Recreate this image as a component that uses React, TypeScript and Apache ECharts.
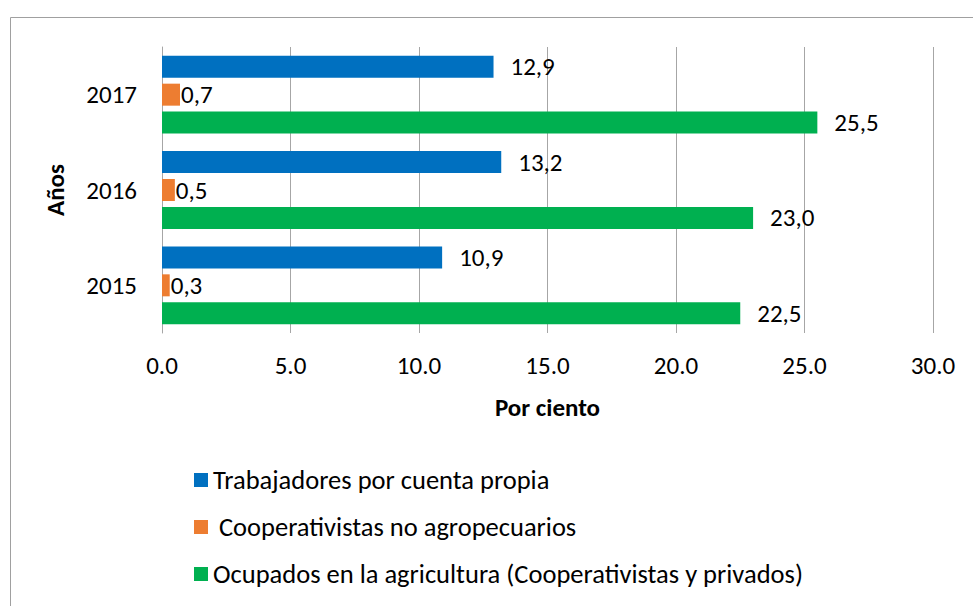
import React, { useEffect, useRef } from "react";
import * as echarts from "echarts";

const categories = ["2015", "2016", "2017"];
const seriesNames = [
  "Trabajadores por cuenta propia",
  " Cooperativistas no agropecuarios",
  "Ocupados en la agricultura (Cooperativistas y privados)",
];
const trabajadores = [10.9, 13.2, 12.9];
const cooperativistas = [0.3, 0.5, 0.7];
const ocupados = [22.5, 23.0, 25.5];
const xTicks = { min: 0, max: 30, interval: 5 };

const FONT = "Carlito, Lato, 'Open Sans', sans-serif";
const FS = 25;

export default function App() {
  const ref = useRef<HTMLDivElement>(null);
  useEffect(() => {
    if (!ref.current) return;
    const chart = echarts.init(ref.current, undefined, { renderer: "svg" });
    const fmt = (p: any) => Number(p.value).toFixed(1).replace(".", ",");
    const mk = (name: string, data: number[], color: string, dist: number) => ({
      name,
      type: "bar",
      data,
      barWidth: 22,
      barGap: "27%",
      itemStyle: { color },
      label: {
        show: true,
        position: "right",
        distance: dist,
        formatter: fmt,
        color: "#000",
        fontSize: FS,
        fontFamily: FONT,
      },
    });
    chart.setOption({
      animation: false,
      backgroundColor: "#fff",
      textStyle: { fontFamily: FONT },
      grid: { left: 162, right: 40, top: 47, bottom: 273 },
      legend: {
        orient: "vertical",
        left: 194,
        top: 465,
        padding: 0,
        data: seriesNames,
        icon: "rect",
        itemWidth: 14,
        itemHeight: 14,
        itemGap: 17,
        textStyle: { fontSize: 26.5, fontFamily: FONT, color: "#000", lineHeight: 30 },
      },
      xAxis: {
        type: "value",
        min: xTicks.min,
        max: xTicks.max,
        interval: xTicks.interval,
        name: "Por ciento",
        nameLocation: "middle",
        nameGap: 62,
        nameTextStyle: { fontSize: FS, fontWeight: "bold", color: "#000", fontFamily: FONT },
        axisLine: { show: false },
        axisTick: { show: false },
        axisLabel: {
          formatter: (v: number) => v.toFixed(1),
          fontSize: FS,
          color: "#000",
          margin: 20,
          fontFamily: FONT,
        },
        splitLine: { lineStyle: { color: "#a6a6a6", width: 1 } },
      },
      yAxis: {
        type: "category",
        data: categories,
        name: "Años",
        nameLocation: "middle",
        nameGap: 94,
        nameRotate: 90,
        nameTextStyle: { fontSize: FS, fontWeight: "bold", color: "#000", fontFamily: FONT },
        axisLine: { show: true, lineStyle: { color: "#a6a6a6" } },
        axisTick: { show: false },
        axisLabel: { fontSize: FS, color: "#000", margin: 25, fontFamily: FONT },
      },
      graphic: [
        { type: "line", shape: { x1: 10.5, y1: 17.5, x2: 973, y2: 17.5 }, style: { stroke: "#a0a0a0", lineWidth: 1 } },
        { type: "line", shape: { x1: 10.5, y1: 17.5, x2: 10.5, y2: 606 }, style: { stroke: "#a0a0a0", lineWidth: 1 } },
      ],
      series: [
        mk(seriesNames[0], trabajadores, "#0070C0", 17),
        mk(seriesNames[1], cooperativistas, "#ED7D31", 1),
        mk(seriesNames[2], ocupados, "#00B050", 17),
      ],
    });
    return () => chart.dispose();
  }, []);
  return <div ref={ref} style={{ width: 973, height: 606, position: "absolute", left: 0, top: 0 }} />;
}
